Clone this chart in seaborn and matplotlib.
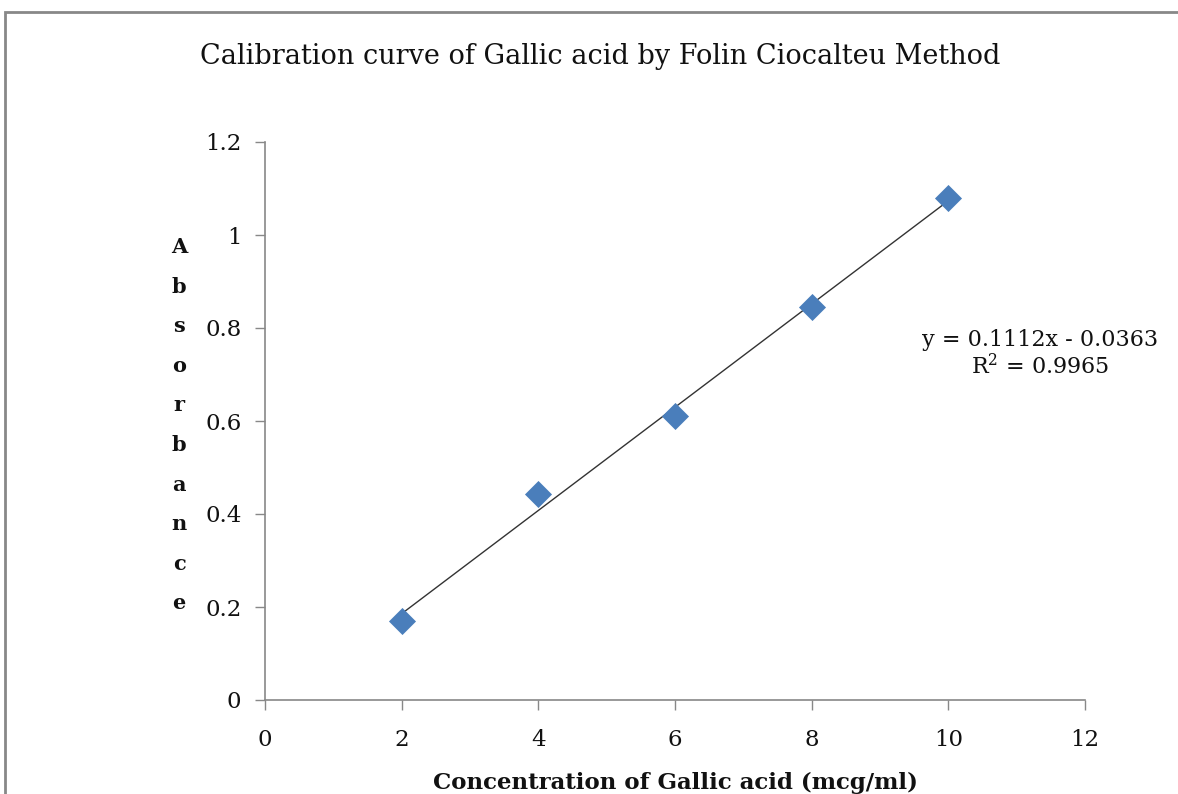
import numpy as np
import pandas as pd
import matplotlib

matplotlib.use('Agg')
import matplotlib.pyplot as plt
import seaborn as sns
from matplotlib.patches import Rectangle

# data
conc = [2, 4, 6, 8, 10]
absorbance = [0.170, 0.443, 0.611, 0.845, 1.079]
x_ticks = [0, 2, 4, 6, 8, 10, 12]
y_ticks = [0, 0.2, 0.4, 0.6, 0.8, 1.0, 1.2]
y_tick_labels = ['0', '0.2', '0.4', '0.6', '0.8', '1', '1.2']
title = "Calibration curve of Gallic acid by Folin Ciocalteu Method"
x_label = "Concentration of Gallic acid (mcg/ml)"
y_label = "Absorbance"
eq_text = "y = 0.1112x - 0.0363"
r2_text = "R$^2$ = 0.9965"

df = pd.DataFrame({'conc': conc, 'abs': absorbance})

sns.set_theme(style="white")
plt.rcParams['font.family'] = ['DejaVu Serif']
plt.rcParams['mathtext.fontset'] = 'dejavuserif'

W, H = 1178, 794
fig = plt.figure(figsize=(W / 100, H / 100), dpi=100)
ax = fig.add_axes([265 / W, 1 - 700 / H, 820 / W, 558 / H])

# outer chart border (cut off at right and bottom like the source)
fig.patches.append(Rectangle((5 / W, -0.05), 1.2, 1 - 12 / H + 0.05,
                             transform=fig.transFigure, fill=False,
                             edgecolor='#888888', lw=2))

sns.regplot(data=df, x='conc', y='abs', ax=ax, scatter=False, ci=None,
            line_kws={'color': '#333333', 'lw': 1})
sns.scatterplot(data=df, x='conc', y='abs', ax=ax, marker='D', s=190,
                color='#4A7EBB', edgecolor='#4A7EBB', linewidth=0, zorder=3)

ax.set_xlim(0, 12)
ax.set_ylim(0, 1.2)
ax.set_xticks(x_ticks)
ax.set_yticks(y_ticks)
ax.set_yticklabels(y_tick_labels)
ax.tick_params(axis='both', which='major', labelsize=16.5, length=7, width=1,
               color='#888888', direction='out', left=True, bottom=True,
               labelcolor='#111111')
ax.tick_params(axis='y', pad=10)
ax.tick_params(axis='x', pad=14)
for side in ['top', 'right']:
    ax.spines[side].set_visible(False)
for side in ['left', 'bottom']:
    ax.spines[side].set_color('#888888')
    ax.spines[side].set_linewidth(1.2)

ax.set_xlabel('')
ax.set_ylabel('')
fig.text(675 / W, 1 - 789 / H, x_label, ha='center', va='baseline',
         fontsize=16.5, fontweight='bold', color='#111111')

# vertical stacked axis title, one letter per line
for i, ch in enumerate(y_label):
    fig.text(179 / W, 1 - (253 + i * 39.6) / H, ch, ha='center', va='baseline',
             fontsize=15, fontweight='bold', color='#111111')

fig.text(600 / W, 1 - 57 / H, title, ha='center', va='center', fontsize=19.5,
         color='#111111')

ax.text(11.34, 0.775, eq_text, ha='center', va='center', fontsize=16,
        color='#111111')
ax.text(11.34, 0.716, r2_text, ha='center', va='center', fontsize=16,
        color='#111111')

plt.savefig('out.png', dpi=100)
plt.close()
